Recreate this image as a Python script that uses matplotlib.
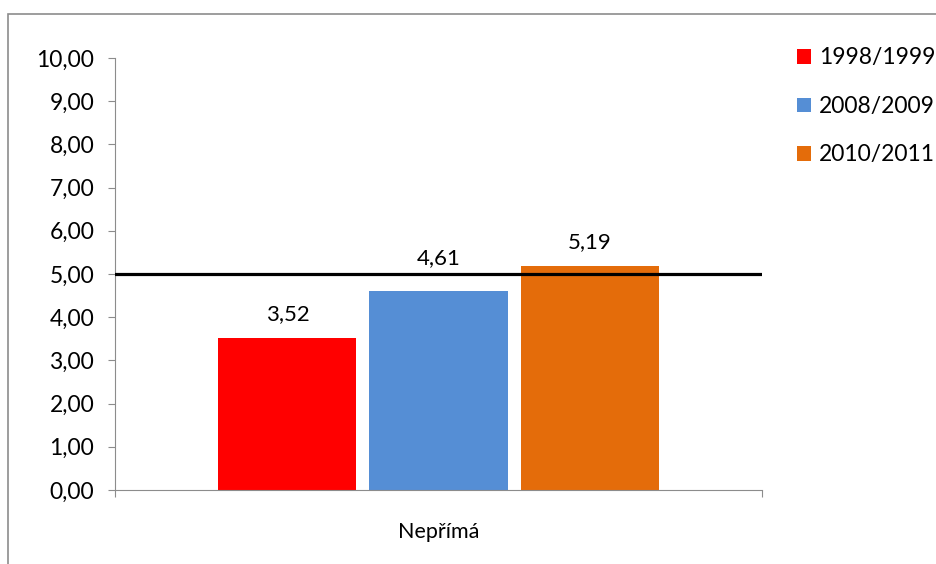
import matplotlib.pyplot as plt
from matplotlib.patches import Rectangle
from matplotlib.ticker import FuncFormatter

plt.rcParams['font.family'] = ['Lato', 'DejaVu Sans']

kategorie = ['Nepřímá']
roky = ['1998/1999', '2008/2009', '2010/2011']
hodnoty = [3.52, 4.61, 5.19]
barvy = ['#ff0000', '#558ed5', '#e46c0a']
hranice = 5.0
posun_popisku = [0.32, 0.53, 0.32]

fig = plt.figure(figsize=(9.36, 5.64), dpi=100)
fig.patches.append(Rectangle((8 / 936, -0.1), 1.2, 1 - 14 / 564 + 0.1,
                             transform=fig.transFigure, fill=False,
                             edgecolor='#8c8c8c', lw=1.2))

ax = fig.add_axes([115 / 936, 74 / 564, 647 / 936, 432 / 564])

krok = 0.2334
sirka = 0.2133
for i, (rok, h, c) in enumerate(zip(roky, hodnoty, barvy)):
    x = (i - 1) * krok
    ax.bar(x, h, width=sirka, color=c, label=rok, zorder=2)
    ax.text(x, h + posun_popisku[i], f'{h:.2f}'.replace('.', ','),
            ha='center', va='bottom', fontsize=16)

ax.axhline(hranice, color='black', lw=2.3, zorder=3)

ax.set_xlim(-0.5, 0.5)
ax.set_ylim(0, 10)
ax.set_yticks(range(0, 11))
ax.yaxis.set_major_formatter(FuncFormatter(lambda v, p: f'{v:.2f}'.replace('.', ',')))
ax.set_xticks([-0.5, 0.5])
ax.set_xticklabels(['', ''])
ax.tick_params(axis='y', labelsize=16.5, length=5, color='#8c8c8c', pad=10)
ax.tick_params(axis='x', length=5, color='#8c8c8c')
ax.text(0, -0.75, kategorie[0], ha='center', va='top', fontsize=15.5)

for s in ['top', 'right']:
    ax.spines[s].set_visible(False)
for s in ['left', 'bottom']:
    ax.spines[s].set_color('#8c8c8c')

ax.legend(loc='upper left', bbox_to_anchor=(786 / 936, 1 - 36 / 564),
          bbox_transform=fig.transFigure, frameon=False, fontsize=16.5,
          handlelength=0.6, handleheight=0.6, handletextpad=0.35,
          labelspacing=1.2, borderpad=0)

fig.savefig('out.png', dpi=100)
